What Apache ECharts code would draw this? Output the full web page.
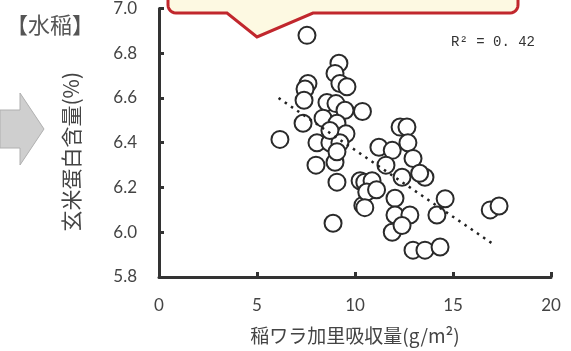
<!DOCTYPE html>
<html>
<head>
<meta charset="utf-8">
<script src="https://cdn.jsdelivr.net/npm/echarts@6/dist/echarts.min.js"></script>
<style>
html,body{margin:0;padding:0;background:#fff;}
#chart{width:571px;height:351px;}
</style>
</head>
<body>
<div id="chart"></div>
<script>
// Straw potassium uptake (g/m2)
const strawK = [7.55, 9.18, 8.98, 9.23, 9.59, 7.6, 7.45, 7.4, 8.57, 9.03, 9.49, 10.38, 8.37, 7.35, 9.08,
  6.17, 8.06, 8.72, 9.54, 9.23, 8.01, 8.98, 9.08, 8.88, 10.26, 10.4, 12.3, 12.65, 11.22, 11.9,
  12.7, 12.96, 11.58, 12.4, 13.57, 13.3, 10.5, 10.87, 10.6, 11.1, 12.04, 10.5, 12.04, 12.8, 11.9,
  12.4, 14.18, 14.6, 12.96, 13.57, 14.34, 16.9, 17.35, 8.72, 9.08];
// Brown rice protein content (%)
const protein = [6.88, 6.755, 6.71, 6.665, 6.65, 6.665, 6.64, 6.59, 6.58, 6.575, 6.545, 6.54, 6.51, 6.487, 6.487,
  6.415, 6.40, 6.40, 6.44, 6.40, 6.30, 6.313, 6.224, 6.04, 6.23, 6.12, 6.47, 6.47, 6.38, 6.366,
  6.40, 6.33, 6.30, 6.246, 6.246, 6.264, 6.224, 6.23, 6.18, 6.19, 6.152, 6.11, 6.077, 6.077, 6.0,
  6.03, 6.077, 6.15, 5.92, 5.92, 5.934, 6.10, 6.117, 6.455, 6.36];
// Linear trend endpoints
const trendX = [6.1, 17.0];
const trendY = [6.60, 5.95];
const xTicks = [0, 5, 10, 15, 20];
const yTicks = [5.8, 6.0, 6.2, 6.4, 6.6, 6.8, 7.0];
const xTitle = '稲ワラ加里吸収量(g/m²)';
const yTitle = '玄米蛋白含量(%)';
const panelLabel = '【水稲】';
const r2Label = 'R² = 0. 42';

const pts = strawK.map((x, i) => [x, protein[i]]);
const trend = trendX.map((x, i) => [x, trendY[i]]);

// callout outline (decoration) with rounded corners
function arc(cx, cy, r, a0, a1) {
  const out = [];
  for (let k = 0; k <= 6; k++) {
    const a = a0 + (a1 - a0) * k / 6;
    out.push([cx + r * Math.cos(a), cy + r * Math.sin(a)]);
  }
  return out;
}
const R = 8, L = 168, Rt = 518, T = -30, B = 13;
const callout = [].concat(
  arc(L + R, T + R, R, Math.PI, 1.5 * Math.PI),
  arc(Rt - R, T + R, R, 1.5 * Math.PI, 2 * Math.PI),
  arc(Rt - R, B - R, R, 0, 0.5 * Math.PI),
  [[313, B], [257, 37], [227, B]],
  arc(L + R, B - R, R, 0.5 * Math.PI, Math.PI)
);

const chart = echarts.init(document.getElementById('chart'), null, {renderer: 'canvas'});
const axisColor = '#333';
chart.setOption({
  animation: false,
  backgroundColor: '#fff',
  grid: {left: 159, right: 20, top: 8, bottom: 74, containLabel: false},
  xAxis: {
    type: 'value', min: xTicks[0], max: xTicks[xTicks.length - 1], interval: 5,
    axisLine: {show: true, lineStyle: {color: axisColor, width: 3}},
    axisTick: {show: true, inside: true, length: 5, lineStyle: {color: axisColor, width: 3}},
    splitLine: {show: false},
    axisLabel: {fontSize: 17, color: '#444', margin: 20, fontFamily: 'Lato, "Liberation Sans", sans-serif'},
    name: xTitle, nameLocation: 'middle', nameGap: 49,
    nameTextStyle: {fontSize: 19, color: '#444', fontFamily: '"Noto Sans CJK JP", sans-serif'}
  },
  yAxis: {
    type: 'value', min: yTicks[0], max: yTicks[yTicks.length - 1], interval: 0.2,
    axisLine: {show: true, lineStyle: {color: axisColor, width: 3}},
    axisTick: {show: true, inside: true, length: 5, lineStyle: {color: axisColor, width: 3}},
    splitLine: {show: false},
    axisLabel: {fontSize: 17, color: '#444', margin: 22, fontFamily: 'Lato, "Liberation Sans", sans-serif',
      formatter: v => v.toFixed(1)},
    name: yTitle, nameLocation: 'middle', nameGap: 77,
    nameTextStyle: {fontSize: 21, color: '#444', fontFamily: '"Noto Sans CJK JP", sans-serif',
      padding: [0, 18, 0, 0]}
  },
  series: [
    {
      type: 'scatter', data: pts, symbol: 'circle', symbolSize: 17,
      itemStyle: {color: '#fff', borderColor: '#2a2a2a', borderWidth: 2, opacity: 1},
      z: 2
    },
    {
      type: 'line', data: trend, symbol: 'none', silent: true,
      lineStyle: {color: '#222', width: 2.5, type: [2.5, 5]},
      z: 3
    }
  ],
  graphic: [
    {
      type: 'polygon', z: 10,
      shape: {points: callout},
      style: {fill: '#fdf9e2', stroke: '#c1272d', lineWidth: 3, lineJoin: 'miter'}
    },
    {
      type: 'polygon', z: 10,
      shape: {points: [[0,110],[20,110],[20,93],[44,129],[20,165],[20,148],[0,148]]},
      style: {fill: '#cfcfcf', stroke: '#b0b0b0', lineWidth: 1}
    },
    {
      type: 'text', z: 10, left: 6, top: 14,
      style: {text: panelLabel, font: '22px "Noto Sans CJK JP", sans-serif', fill: '#555'}
    },
    {
      type: 'text', z: 10, left: 451, top: 35,
      style: {text: r2Label, font: '14px "Liberation Mono", monospace', fill: '#333'}
    }
  ]
});
</script>
</body>
</html>
